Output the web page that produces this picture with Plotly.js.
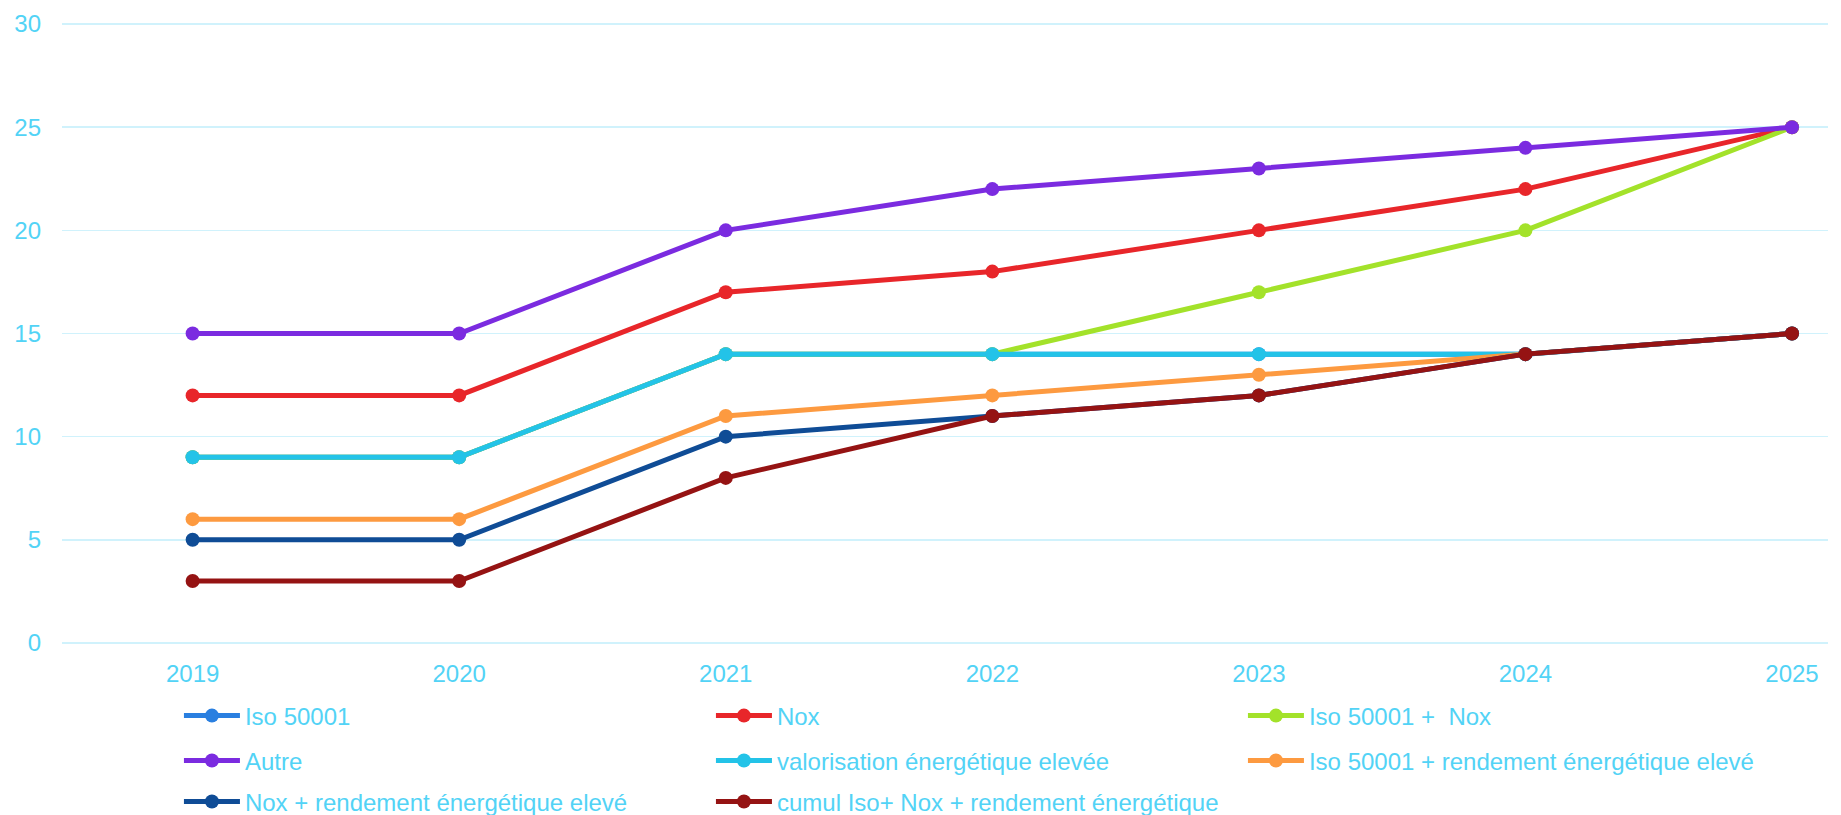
<!DOCTYPE html>
<html>
<head>
<meta charset="utf-8">
<script src="https://cdn.plot.ly/plotly-3.0.1.min.js"></script>
<style>
html,body{margin:0;padding:0;background:#fff;}
#chart{width:1841px;height:815px;}
</style>
</head>
<body>
<div id="chart"></div>
<script>
var years = ['2019','2020','2021','2022','2023','2024','2025'];
var seriesNames = [
  'Iso 50001',
  'Nox',
  'Iso 50001 +  Nox',
  'Autre',
  'valorisation énergétique elevée',
  'Iso 50001 + rendement énergétique elevé',
  'Nox + rendement énergétique elevé',
  'cumul Iso+ Nox + rendement énergétique'
];
var iso50001 = [9, 9, 14, 14, 14, 14, 15];
var nox = [12, 12, 17, 18, 20, 22, 25];
var isoNox = [9, 9, 14, 14, 17, 20, 25];
var autre = [15, 15, 20, 22, 23, 24, 25];
var valorisation = [9, 9, 14, 14, 14, 14, 15];
var isoRendement = [6, 6, 11, 12, 13, 14, 15];
var noxRendement = [5, 5, 10, 11, 12, 14, 15];
var cumul = [3, 3, 8, 11, 12, 14, 15];
var yTicks = [0, 5, 10, 15, 20, 25, 30];

var seriesValues = [iso50001, nox, isoNox, autre, valorisation, isoRendement, noxRendement, cumul];
var colors = ['#2a7fe0', '#e8262a', '#a3e22a', '#7b2be0', '#23c3e8', '#fd9a40', '#0f4c96', '#951313'];
var legendIds = ['legend', 'legend', 'legend', 'legend2', 'legend2', 'legend2', 'legend3', 'legend3'];

var textColor = '#52d3f6';
var fontFam = '"Liberation Sans", Arial, sans-serif';

var data = seriesNames.map(function(name, i) {
  return {
    type: 'scatter',
    mode: 'lines+markers',
    name: name,
    x: years,
    y: seriesValues[i],
    line: {color: colors[i], width: 5},
    marker: {color: colors[i], size: 14},
    legend: legendIds[i],
    hoverinfo: 'x+y+name'
  };
});

function legendAt(yPos) {
  return {
    orientation: 'h',
    xref: 'container',
    yref: 'container',
    x: 0.0972,
    xanchor: 'left',
    y: yPos,
    yanchor: 'middle',
    entrywidth: 461,
    entrywidthmode: 'pixels',
    itemwidth: 56,
    font: {family: fontFam, size: 24, color: textColor},
    bgcolor: 'rgba(0,0,0,0)',
    traceorder: 'normal'
  };
}

var layout = {
  width: 1841,
  height: 815,
  margin: {l: 62, r: 13, t: 22, b: 170},
  paper_bgcolor: '#ffffff',
  plot_bgcolor: '#ffffff',
  showlegend: true,
  font: {family: fontFam, size: 24, color: textColor},
  xaxis: {
    type: 'category',
    categoryarray: years,
    range: [-0.49, 6.135],
    showgrid: false,
    zeroline: false,
    showline: false,
    ticks: '',
    ticklabelstandoff: 12,
    tickfont: {family: fontFam, size: 24, color: textColor}
  },
  yaxis: {
    range: [-0.1, 30.1],
    tickvals: yTicks,
    ticktext: yTicks.map(String),
    showgrid: true,
    gridcolor: '#d0f2fc',
    gridwidth: 1.5,
    zeroline: false,
    showline: false,
    ticks: '',
    ticklabelstandoff: 20,
    tickfont: {family: fontFam, size: 24, color: textColor}
  },
  legend: legendAt(0.1215),
  legend2: legendAt(0.0663),
  legend3: legendAt(0.016)
};

Plotly.newPlot('chart', data, layout, {displayModeBar: false, staticPlot: true});
</script>
</body>
</html>
